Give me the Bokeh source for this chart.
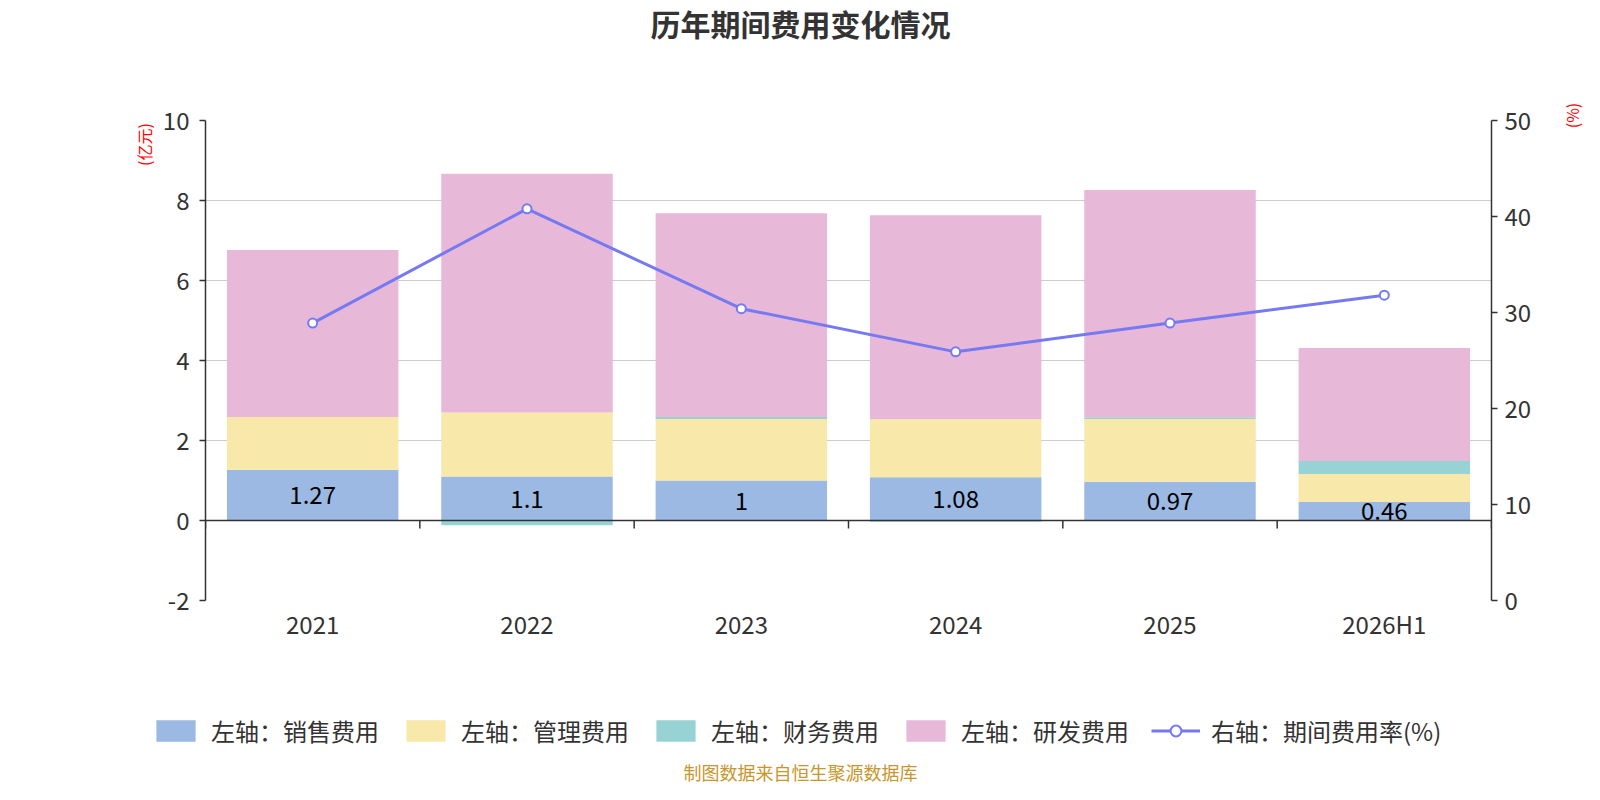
import numpy as np
from bokeh.plotting import figure
from bokeh.layouts import column, row
from bokeh.models import (Range1d, LinearAxis, FixedTicker, Span, Label,
                          Legend, LegendItem)
from bokeh.embed import file_html
from bokeh.resources import INLINE
from bokeh.core.properties import value

# ---------------- data ----------------
categories = ["2021", "2022", "2023", "2024", "2025", "2026H1"]
sales = [1.27, 1.10, 1.00, 1.08, 0.97, 0.46]        # 销售费用 (亿元)
admin = [1.32, 1.60, 1.54, 1.45, 1.57, 0.70]        # 管理费用 (亿元)
finance = [-0.01, -0.12, 0.05, -0.03, 0.04, 0.33]   # 财务费用 (亿元)
rnd = [4.17, 5.97, 5.09, 5.10, 5.68, 2.82]          # 研发费用 (亿元)
rate = [28.9, 40.8, 30.4, 25.9, 28.9, 31.8]         # 期间费用率 (%)
left_ticks = [-2, 0, 2, 4, 6, 8, 10]
right_ticks = [0, 10, 20, 30, 40, 50]

series_names = ["左轴：销售费用", "左轴：管理费用", "左轴：财务费用", "左轴：研发费用"]
line_name = "右轴：期间费用率(%)"
title_text = "历年期间费用变化情况"
left_unit = "(亿元)"
right_unit = "(%)"
footer_text = "制图数据来自恒生聚源数据库"

colors = ["#9bb9e2", "#f8e8aa", "#97d3d4", "#e8b8d9"]
line_color = "#7579f2"
FONT = "Noto Sans CJK SC"
TXT = "#333333"

n = len(categories)
x = np.arange(n)

W = 1584
TOP_H, MID_H, BOT_H = 90, 570, 124
LEFT_W, RIGHT_W = 156, 39
MAIN_W = W - LEFT_W - RIGHT_W


def blank(width, height):
    f = figure(width=width, height=height, output_backend="svg",
               toolbar_location=None, x_axis_location=None, y_axis_location=None,
               x_range=Range1d(0, 1), y_range=Range1d(0, 1), min_border=0,
               frame_align=False)
    f.outline_line_color = None
    f.grid.visible = False
    f.background_fill_color = "white"
    f.border_fill_color = "white"
    return f


# ---------------- main chart ----------------
p = figure(width=MAIN_W, height=MID_H, output_backend="svg", toolbar_location=None,
           x_range=Range1d(-0.5, n - 0.5), y_range=Range1d(left_ticks[0], left_ticks[-1]),
           min_border_left=49, min_border_right=54, min_border_top=30,
           min_border_bottom=60, frame_align=False)
p.extra_y_ranges = {"right": Range1d(right_ticks[0], right_ticks[-1])}
p.outline_line_color = None
p.background_fill_color = "white"
p.border_fill_color = "white"

pos = np.zeros(n)
neg = np.zeros(n)
for vals, col in zip([sales, admin, finance, rnd], colors):
    v = np.array(vals, dtype=float)
    bottom = np.where(v >= 0, pos, neg)
    top = bottom + v
    pos = np.where(v >= 0, top, pos)
    neg = np.where(v < 0, top, neg)
    p.vbar(x=x, bottom=bottom, top=top, width=0.8, fill_color=col, line_color=None)

p.text(x=x, y=np.array(sales) / 2, text=[f"{v:g}" for v in sales],
       text_align="center", text_baseline="middle", text_color="black",
       text_font_size="24px", text_font=value(FONT))

p.line(x=x, y=rate, line_color=line_color, line_width=3, y_range_name="right")
p.scatter(x=x, y=rate, size=9, marker="circle", fill_color="white",
          line_color=line_color, line_width=2, y_range_name="right")

p.add_layout(Span(location=0, dimension="width", line_color=TXT, line_width=1.5))
bounds = np.arange(n + 1) - 0.5
p.segment(x0=bounds, y0=0, x1=bounds, y1=-0.2, line_color=TXT, line_width=1.5)


def style_axis(ax, standoff):
    ax.major_tick_out = 6
    ax.major_tick_in = 0
    ax.minor_tick_out = 0
    ax.minor_tick_in = 0
    ax.axis_line_color = TXT
    ax.axis_line_width = 1.5
    ax.major_tick_line_color = TXT
    ax.major_tick_line_width = 1.5
    ax.major_label_standoff = standoff
    ax.major_label_text_font = FONT
    ax.major_label_text_font_size = "24px"
    ax.major_label_text_color = TXT


ya = p.yaxis[0]
ya.ticker = FixedTicker(ticks=left_ticks)
ya.major_label_overrides = {t: str(t) for t in left_ticks}
style_axis(ya, 10)

ra = LinearAxis(y_range_name="right", ticker=FixedTicker(ticks=right_ticks))
style_axis(ra, 7)
p.add_layout(ra, "right")

xa = p.xaxis[0]
xa.ticker = FixedTicker(ticks=list(range(n)))
xa.major_label_overrides = {i: c for i, c in enumerate(categories)}
style_axis(xa, 5)
xa.axis_line_color = None
xa.major_tick_out = 0

p.xgrid.visible = False
p.ygrid.ticker = FixedTicker(ticks=left_ticks)
p.ygrid.grid_line_color = "#cccccc"
p.ygrid.grid_line_width = 1.2

# ---------------- side strips with unit names ----------------
ls = blank(LEFT_W, MID_H)
ls.add_layout(Label(x=143, y=MID_H - 54, x_units="screen", y_units="screen",
                    text=left_unit, angle=np.pi / 2, text_align="center",
                    text_baseline="middle", text_font=FONT, text_font_size="16px",
                    text_color="red"))
rs = blank(RIGHT_W, MID_H)
rs.add_layout(Label(x=26, y=MID_H - 25, x_units="screen", y_units="screen",
                    text=right_unit, angle=np.pi / 2, text_align="center",
                    text_baseline="middle", text_font=FONT, text_font_size="16px",
                    text_color="red"))

# ---------------- title ----------------
tf = blank(W, TOP_H)
tf.add_layout(Label(x=800, y=TOP_H - 22.5, x_units="screen", y_units="screen",
                    text=title_text, text_align="center", text_baseline="middle",
                    text_font=FONT, text_font_size="30px", text_font_style="bold",
                    text_color=TXT))

# ---------------- legend + footer ----------------
bf = blank(W, BOT_H)
nan = [np.nan]
proxies = [bf.vbar(x=nan, top=nan, width=0.8, fill_color=c, line_color=None)
           for c in colors]
pl = bf.line(x=nan, y=nan, line_color=line_color, line_width=3)
ps = bf.scatter(x=nan, y=nan, size=9, marker="circle", fill_color="white",
                line_color=line_color, line_width=2)
items = [LegendItem(label=nm, renderers=[r]) for nm, r in zip(series_names, proxies)]
items.append(LegendItem(label=line_name, renderers=[pl, ps]))
legend = Legend(items=items, orientation="horizontal", location=(151, 36),
                glyph_width=49, glyph_height=27, label_height=27,
                label_standoff=11, spacing=22, padding=0, margin=0,
                border_line_color=None, background_fill_alpha=0,
                label_text_font=FONT, label_text_font_size="24px",
                label_text_color=TXT, label_text_baseline="middle")
bf.add_layout(legend)
bf.add_layout(Label(x=800, y=13, x_units="screen", y_units="screen",
                    text=footer_text, text_align="center", text_baseline="middle",
                    text_font=FONT, text_font_size="18px", text_color="#c8962c"))

layout = column(tf, row(ls, p, rs), bf)
open("out.html", "w").write(file_html(layout, INLINE))
